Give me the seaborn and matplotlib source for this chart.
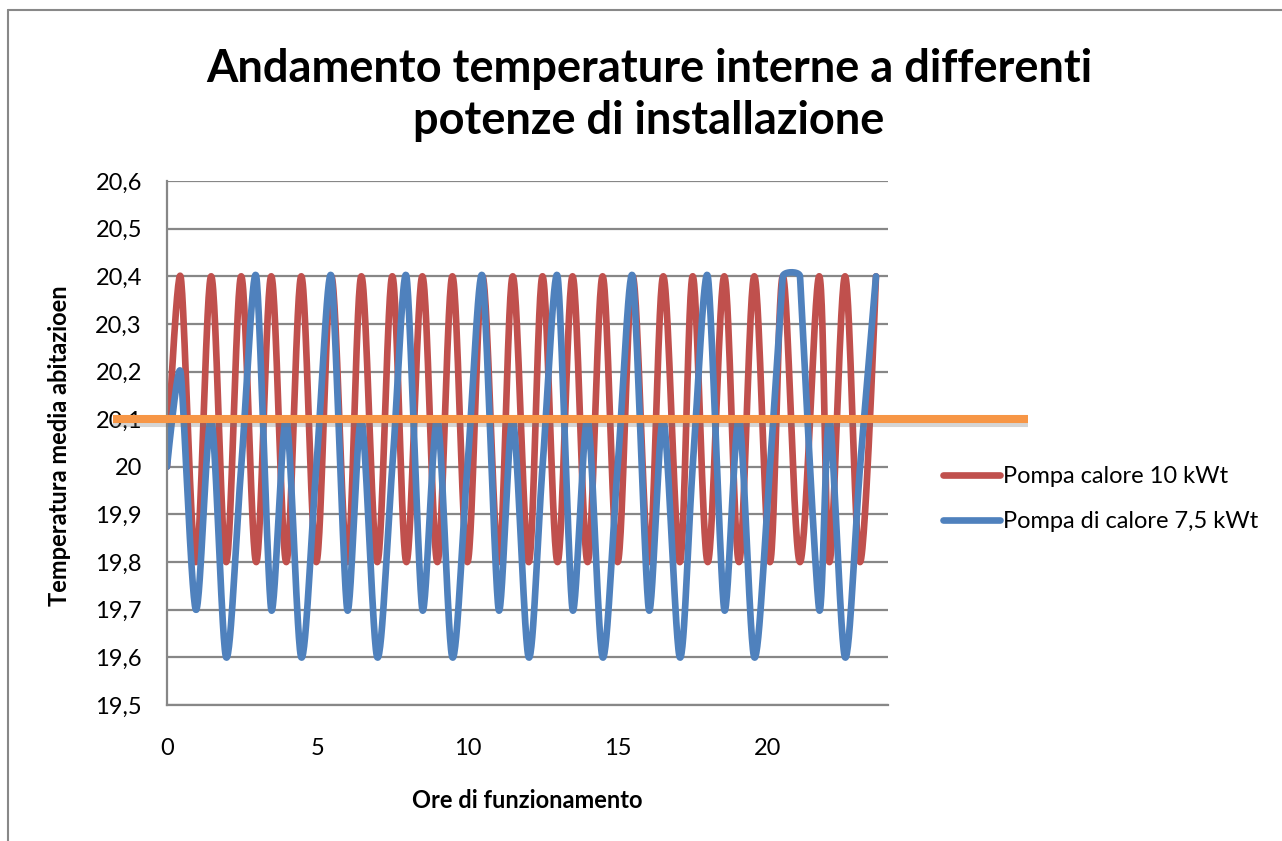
import matplotlib
matplotlib.use("Agg")
import matplotlib.pyplot as plt
import matplotlib.patheffects as pe
from matplotlib.ticker import FuncFormatter, MultipleLocator
import seaborn as sns
import pandas as pd
import numpy as np

# Dati (punti di commutazione delle pompe)
ore = [0, 0.45, 0.96, 1.47, 1.97, 2.47, 2.97, 3.47, 3.97, 4.47, 4.97, 5.47,
       6.0, 6.47, 7.0, 7.5, 7.97, 8.5, 9.0, 9.5, 10.0, 10.5, 11.04, 11.51,
       12.04, 12.5, 13.0, 13.5, 14.0, 14.5, 15.0, 15.5, 16.04, 16.52, 17.07, 17.5,
       18.0, 18.55, 19.04, 19.55, 20.07, 20.5, 21.07, 21.71, 22.05, 22.57, 23.07, 23.6]
pompa_10 = [20.0, 20.4, 19.8, 20.4, 19.8, 20.4, 19.8, 20.4, 19.8, 20.4, 19.8, 20.4,
            19.8, 20.4, 19.8, 20.4, 19.8, 20.4, 19.8, 20.4, 19.8, 20.4, 19.8, 20.4,
            19.8, 20.4, 19.8, 20.4, 19.8, 20.4, 19.8, 20.4, 19.8, 20.4, 19.8, 20.4,
            19.8, 20.4, 19.8, 20.4, 19.8, 20.4, 19.8, 20.4, 19.8, 20.4, 19.8, 20.4]
pompa_75 = [20.0, 20.2, 19.7, 20.1, 19.6, 20.0, 20.4, 19.7, 20.1, 19.6, 20.0, 20.4,
            19.7, 20.1, 19.6, 20.0, 20.4, 19.7, 20.1, 19.6, 20.0, 20.4, 19.7, 20.1,
            19.6, 20.0, 20.4, 19.7, 20.1, 19.6, 20.0, 20.4, 19.7, 20.1, 19.6, 20.0,
            20.4, 19.7, 20.1, 19.6, 20.0, 20.4, 20.4, 19.7, 20.1, 19.6, 20.0, 20.4]
serie = ["Pompa calore 10 kWt", "Pompa di calore 7,5 kWt"]
colori = ["#C0504D", "#4F81BD"]
# linea di riferimento arancione (forma disegnata sopra il grafico)
soglia_x = [-1.8, 28.65]
soglia_y = [20.1, 20.1]

XLIM = (0, 24)
YLIM = (19.5, 20.6)
AX_W, AX_H = 721, 524  # dimensioni area del grafico in pixel


def smooth(xs, ys, n=30):
    """Linea smussata tipo Excel: Bezier cubiche con tangenti pesate
    sulla lunghezza dei segmenti (calcolata in pixel)."""
    sx = AX_W / (XLIM[1] - XLIM[0])
    sy = AX_H / (YLIM[1] - YLIM[0])
    pts = np.column_stack([np.asarray(xs, float) * sx, np.asarray(ys, float) * sy])
    P = np.vstack([pts[0], pts, pts[-1]])
    out = []
    t = np.linspace(0, 1, n, endpoint=False)[:, None]

    def tangent(a, b, c):
        la, lc = np.linalg.norm(b - a), np.linalg.norm(c - b)
        if la + lc == 0:
            return np.zeros(2)
        return (c - a) * 2 * min(la, lc) / (la + lc)

    for i in range(1, len(P) - 2):
        p0, p1, p2, p3 = P[i - 1], P[i], P[i + 1], P[i + 2]
        c1 = p1 + tangent(p0, p1, p2) / 6
        c2 = p2 - tangent(p1, p2, p3) / 6
        b = (1 - t) ** 3 * p1 + 3 * (1 - t) ** 2 * t * c1 + 3 * (1 - t) * t ** 2 * c2 + t ** 3 * p2
        out.append(b)
    out.append(pts[-1:])
    res = np.vstack(out)
    return res[:, 0] / sx, res[:, 1] / sy


frames = []
for nome, vals in zip(serie, [pompa_10, pompa_75]):
    sx_, sy_ = smooth(ore, vals)
    frames.append(pd.DataFrame({"ore": sx_, "temp": sy_, "serie": nome}))
df = pd.concat(frames, ignore_index=True)

sns.set_theme(style="white")
plt.rcParams["font.family"] = ["Lato", "DejaVu Sans"]
plt.rcParams.update({"text.color": "black", "axes.labelcolor": "black",
                     "xtick.color": "black", "ytick.color": "black"})

fig = plt.figure(figsize=(12.82, 8.41), dpi=100)
ax = fig.add_axes([167 / 1282, 1 - 705 / 841, AX_W / 1282, AX_H / 841])

sns.lineplot(data=df, x="ore", y="temp", hue="serie", palette=colori, sort=False,
             estimator=None, linewidth=4.8, ax=ax, legend=True)

ax.plot(soglia_x, soglia_y, color="#F79646", linewidth=5.8, clip_on=False, zorder=5,
        solid_capstyle="butt",
        path_effects=[pe.SimpleLineShadow(offset=(0, -3), shadow_color="#777777", alpha=0.3),
                      pe.Normal()])

ax.set_xlim(*XLIM)
ax.set_ylim(*YLIM)
ax.xaxis.set_major_locator(MultipleLocator(5))
ax.yaxis.set_major_locator(MultipleLocator(0.1))


def virgola(v, pos):
    v = round(v, 1)
    if abs(v - round(v)) < 1e-9:
        return f"{int(round(v))}"
    return f"{v:.1f}".replace(".", ",")


ax.yaxis.set_major_formatter(FuncFormatter(virgola))
ax.xaxis.set_major_formatter(FuncFormatter(lambda v, p: f"{int(v)}"))
ax.tick_params(axis="both", length=0, labelsize=17, colors="black")
ax.tick_params(axis="x", pad=24)
ax.tick_params(axis="y", pad=18)
ax.grid(axis="y", color="#878787", linewidth=1.6)
ax.grid(axis="x", visible=False)
for side in ["top", "right"]:
    ax.spines[side].set_visible(False)
for side in ["left", "bottom"]:
    ax.spines[side].set_color("#878787")
    ax.spines[side].set_linewidth(1.6)

ax.set_xlabel("")
ax.set_ylabel("")
fig.text(527 / 1282, 1 - 801 / 841, "Ore di funzionamento", ha="center", va="center",
         fontsize=17, fontweight="bold")
fig.text(60 / 1282, 1 - 446 / 841, "Temperatura media abitazioen", ha="center", va="center",
         rotation=90, fontsize=17, fontweight="bold")
fig.text(649 / 1282, 1 - 95 / 841, "Andamento temperature interne a differenti\npotenze di installazione",
         ha="center", va="center", fontsize=32.5, fontweight="bold", linespacing=1.32)

leg = ax.legend(loc="center left", bbox_to_anchor=(943 / 1282, 1 - 499 / 841),
                bbox_transform=fig.transFigure, frameon=False, fontsize=17,
                handlelength=2.4, handletextpad=0.15, labelspacing=1.0,
                borderpad=0, borderaxespad=0)
for h in leg.get_lines():
    h.set_linewidth(4.8)
    h.set_solid_capstyle("round")

# cornice esterna del grafico
fig.add_artist(plt.Line2D([8 / 1282, 1], [1 - 10 / 841, 1 - 10 / 841], color="#888888", linewidth=1.5))
fig.add_artist(plt.Line2D([8 / 1282, 8 / 1282], [0, 1 - 10 / 841], color="#888888", linewidth=1.5))

fig.savefig("out.png", dpi=100)
